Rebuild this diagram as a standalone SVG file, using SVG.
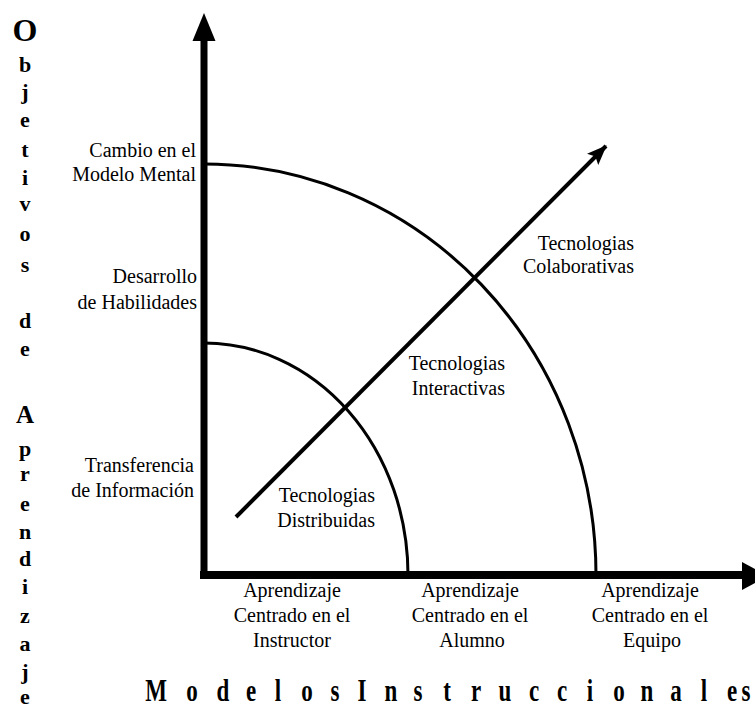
<svg xmlns="http://www.w3.org/2000/svg" width="755" height="710" viewBox="0 0 755 710">
<style>
  .ax { stroke: #000; fill: none; }
  .curve { stroke: #000; stroke-width: 3; fill: none; }
  .head { fill: #000; }
  .lbl { font-family: "Liberation Serif", "Times New Roman", serif; font-size: 20px; fill: #000; }
  .big { font-family: "Liberation Serif", "Times New Roman", serif; font-weight: bold; fill: #000; text-anchor: middle; }
</style>
<defs>
  <marker id="diagHead" markerUnits="userSpaceOnUse" markerWidth="22" markerHeight="18" refX="19" refY="8" orient="auto">
    <path d="M0,0 L20,8 L0,16 L4,8 Z" fill="#000"/>
  </marker>
</defs>
<rect width="755" height="710" fill="#fff"/>

<g id="connectors">
  <g id="axes">
    <line class="ax" x1="204" y1="579" x2="204" y2="38" stroke-width="7"/>
    <polygon class="head" points="204,13 192.5,41 215.5,41"/>
    <line class="ax" x1="200" y1="575" x2="744" y2="575" stroke-width="8"/>
    <polygon class="head" points="768,576 742,562 742,590"/>
  </g>
  <g id="curves">
    <path class="curve" d="M204,164 A392,411 0 0 1 596,575"/>
    <path class="curve" d="M204,343 A204,232 0 0 1 408,575"/>
  </g>
  <g id="diagonal">
    <line x1="236" y1="517" x2="606" y2="146" stroke="#000" stroke-width="4" marker-end="url(#diagHead)"/>
  </g>
</g>

<g id="y-labels" class="lbl" text-anchor="end">
  <g id="y-cambio"><text x="196" y="157">Cambio en el</text><text x="196" y="181">Modelo Mental</text></g>
  <g id="y-desarrollo"><text x="197" y="283">Desarrollo</text><text x="197" y="309">de Habilidades</text></g>
  <g id="y-transferencia"><text x="194" y="472">Transferencia</text><text x="194" y="497">de Información</text></g>
</g>

<g id="x-labels" class="lbl" text-anchor="middle">
  <g id="x-instructor"><text x="292" y="597">Aprendizaje</text><text x="292" y="622">Centrado en el</text><text x="292" y="647">Instructor</text></g>
  <g id="x-alumno"><text x="470" y="597">Aprendizaje</text><text x="470" y="622">Centrado en el</text><text x="472" y="647">Alumno</text></g>
  <g id="x-equipo"><text x="650" y="597">Aprendizaje</text><text x="650" y="622">Centrado en el</text><text x="652" y="647">Equipo</text></g>
</g>

<g id="tech-labels" class="lbl" text-anchor="end">
  <g id="t-distribuidas"><text x="375" y="502">Tecnologias</text><text x="375" y="527">Distribuidas</text></g>
  <g id="t-interactivas"><text x="505" y="370">Tecnologias</text><text x="505" y="395">Interactivas</text></g>
  <g id="t-colaborativas"><text x="634" y="250">Tecnologias</text><text x="634" y="273">Colaborativas</text></g>
</g>

<g id="y-title">
  <text class="big" x="25" y="41" font-size="32">O</text>
  <text class="big" font-size="22">
    <tspan x="25" y="72">b</tspan><tspan x="25" y="99">j</tspan><tspan x="25" y="127">e</tspan><tspan x="25" y="157">t</tspan><tspan x="25" y="185">i</tspan><tspan x="25" y="211">v</tspan><tspan x="25" y="241">o</tspan><tspan x="25" y="272">s</tspan><tspan x="25" y="328">d</tspan><tspan x="25" y="356">e</tspan><tspan x="25" y="423" font-size="25">A</tspan><tspan x="25" y="456">p</tspan><tspan x="25" y="481">r</tspan><tspan x="25" y="511">e</tspan><tspan x="25" y="539">n</tspan><tspan x="25" y="566">d</tspan><tspan x="25" y="594">i</tspan><tspan x="25" y="623">z</tspan><tspan x="25" y="651">a</tspan><tspan x="25" y="679">j</tspan><tspan x="25" y="704">e</tspan>
  </text>
</g>

<g id="x-title" transform="scale(1,1.4)">
  <text class="big" font-size="23" y="501" x="156 192 223 251 278 307 335 348 362 391 418 447 476 505 534 562 590 619 647 676 704 732 746">Modelos Instruccionales</text>
</g>
</svg>
